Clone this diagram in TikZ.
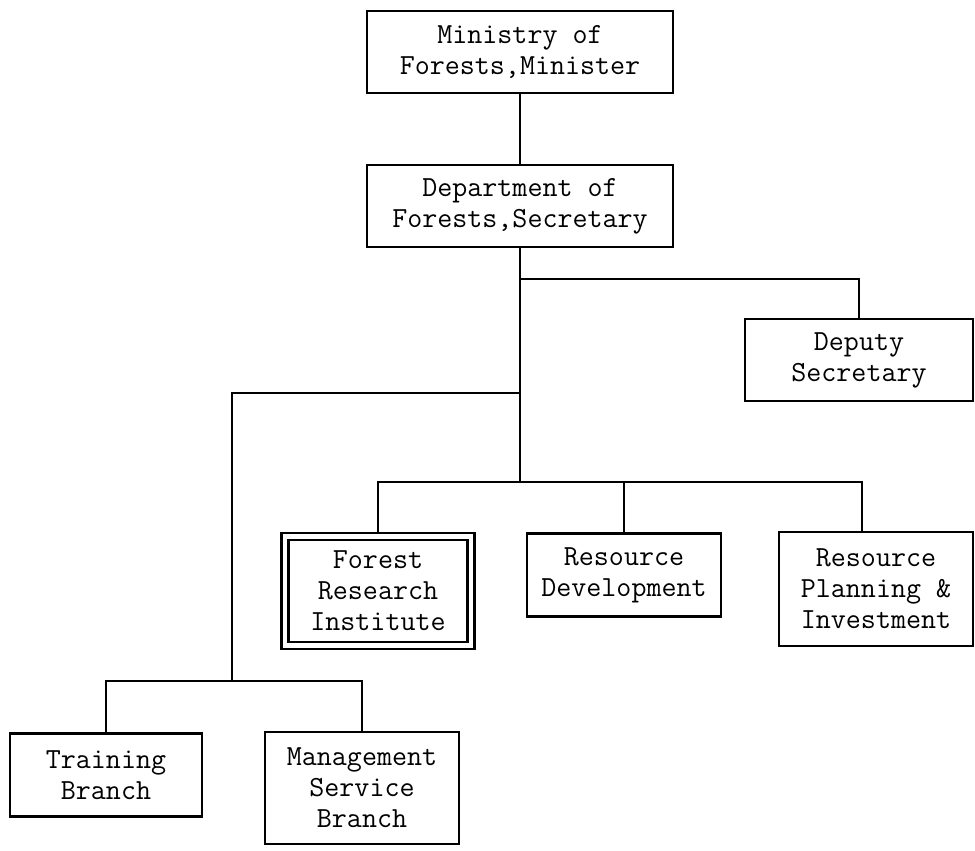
\documentclass[tikz,border=0pt]{standalone}
\usepackage{fontspec}
\usetikzlibrary{positioning}

\begin{document}
\begin{tikzpicture}[
  x=0.02cm, y=-0.02cm,
  unit/.style={draw=black, line width=1.2pt, fill=white, align=center, inner sep=0pt, minimum width=3.88cm, minimum height=1.66cm, text=black, font=\ttfamily\fontsize{16.6pt}{17.6pt}\selectfont},
  unittop/.style={unit, minimum width=6.12cm, minimum height=1.64cm},
  unittall/.style={unit, minimum height=2.28cm},
  unitframed/.style={unit, double, double distance=2.8pt, minimum width=3.72cm, minimum height=2.18cm},
  link/.style={draw=black, line width=1.2pt}
]
  \useasboundingbox (0,0) rectangle (975,850);

  \node[unittop] (ministry) at (520,52) {Ministry of\\Forests,Minister};
  \node[unittop] (dept) at (520,206) {Department of\\Forests,Secretary};
  \node[unit, minimum width=4.56cm, minimum height=1.64cm] (deputy) at (859,360) {Deputy\\Secretary};
  \node[unitframed] (forest) at (378,591) {Forest\\Research\\Institute};
  \node[unit] (resdev) at (624,575) {Resource\\Development};
  \node[unittall] (rpi) at (876,589) {Resource\\Planning \&\\Investment};
  \node[unit, minimum width=3.84cm] (training) at (106,775) {Training\\Branch};
  \node[unittall, minimum width=3.88cm, minimum height=2.24cm] (mgmt) at (362,788) {Management\\Service\\Branch};

  % junctions on the spine
  \coordinate (deputyturn) at (520,279);
  \coordinate (leftturn) at (520,393);
  \coordinate (spine) at (520,482);
  \coordinate (branchbus) at (232,681);

  \draw[link] (ministry) -- (dept);
  \draw[link] (dept.south) -- (spine);
  \draw[link] (deputyturn) -| (deputy.north);
  \draw[link] (leftturn) -| (branchbus);
  \draw[link] (training.north) |- (branchbus) -| (mgmt.north);
  \draw[link] ([yshift=0.07cm]forest.north) |- (spine) -| ([xshift=-0.28cm]rpi.north);
  \draw[link] (resdev.north) -- (resdev.north |- spine);
\end{tikzpicture}
\end{document}
